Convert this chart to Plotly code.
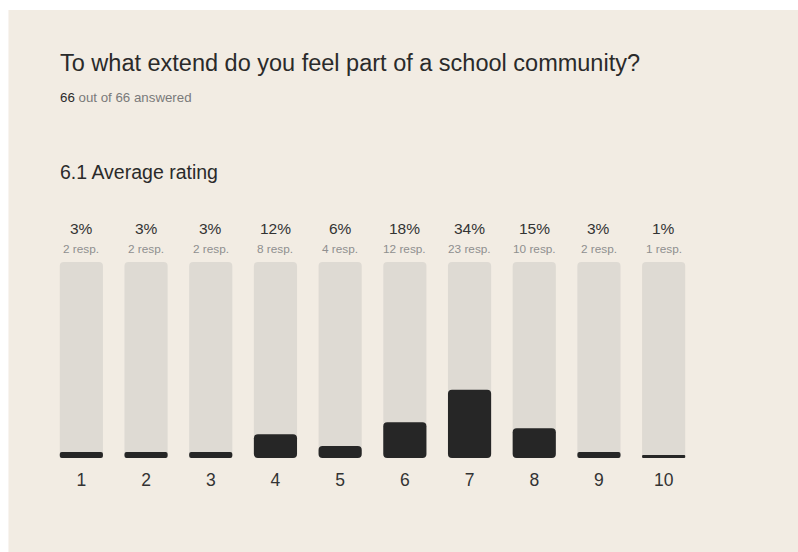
import plotly.graph_objects as go

# ---- data ----
ratings = [1, 2, 3, 4, 5, 6, 7, 8, 9, 10]
responses = [2, 2, 2, 8, 4, 12, 23, 10, 2, 1]
pct_labels = ["3%", "3%", "3%", "12%", "6%", "18%", "34%", "15%", "3%", "1%"]
total_answered = 66
total_asked = 66

title_text = "To what extend do you feel part of a school community?"
subtitle_text = "6.1 Average rating"

# ---- styling ----
W, H = 798, 552
BEIGE = "#f2ece3"
TRACK = "#dedad3"
DARK = "#262626"
FONT = "Liberation Sans, Arial, Helvetica, sans-serif"

pct = [r / total_answered * 100 for r in responses]
full = [100] * len(ratings)

# plot-area geometry (screen pixels)
plot_l, plot_r = 48.6, 696.4
plot_t, plot_b = 262, 458
ml, mr, mt, mb = plot_l, W - plot_r, plot_t, H - plot_b
pw, ph = plot_r - plot_l, plot_b - plot_t

def px_x(x):
    return (x - plot_l) / pw

def px_y(y):
    return (plot_b - y) / ph

fig = go.Figure()

# background tracks and value bars (explicit base -> rounded at both ends)
fig.add_bar(x=ratings, y=full, base=[0] * len(ratings),
            marker=dict(color=TRACK, cornerradius=4, line_width=0), hoverinfo="skip")
fig.add_bar(x=ratings, y=pct, base=[0] * len(ratings),
            marker=dict(color=DARK, cornerradius=4, line_width=0), hoverinfo="skip")

annotations = []
for x, lab, r in zip(ratings, pct_labels, responses):
    annotations.append(dict(x=x, y=100, xref="x", yref="y", text=lab, showarrow=False,
                            yanchor="middle", yshift=34,
                            font=dict(family=FONT, size=15.5, color="#333333")))
    annotations.append(dict(x=x, y=100, xref="x", yref="y", text=f"{r} resp.", showarrow=False,
                            yanchor="middle", yshift=13,
                            font=dict(family=FONT, size=11.8, color="#8f8f8f")))

annotations.append(dict(x=px_x(58), y=px_y(63), xref="paper", yref="paper", text=title_text,
                        showarrow=False, xanchor="left", yanchor="middle",
                        font=dict(family=FONT, size=23.5, color="#2a2a2a")))
annotations.append(dict(x=px_x(58), y=px_y(97), xref="paper", yref="paper",
                        text=f"<span style='color:#2a2a2a'>{total_answered}</span> out of {total_asked} answered",
                        showarrow=False, xanchor="left", yanchor="middle",
                        font=dict(family=FONT, size=13.3, color="#7a7a7a")))
annotations.append(dict(x=px_x(58), y=px_y(172), xref="paper", yref="paper", text=subtitle_text,
                        showarrow=False, xanchor="left", yanchor="middle",
                        font=dict(family=FONT, size=19.5, color="#2a2a2a")))

shapes = [dict(type="rect", xref="paper", yref="paper", layer="below",
               x0=px_x(8), x1=px_x(W + 5), y0=px_y(H + 5), y1=px_y(10),
               fillcolor=BEIGE, line_width=0)]

fig.update_layout(
    width=W, height=H,
    margin=dict(l=ml, r=mr, t=mt, b=mb, pad=0),
    paper_bgcolor="white",
    plot_bgcolor="rgba(0,0,0,0)",
    barmode="overlay",
    bargap=0.333,
    showlegend=False,
    annotations=annotations,
    shapes=shapes,
    font=dict(family=FONT),
)
fig.update_xaxes(range=[0.5, 10.5], tickmode="array", tickvals=ratings,
                 ticktext=[str(r) for r in ratings], showgrid=False, zeroline=False,
                 showline=False, ticks="outside", ticklen=6, tickcolor="rgba(0,0,0,0)",
                 tickfont=dict(family=FONT, size=17.5, color="#333333"), fixedrange=True)
fig.update_yaxes(range=[0, 100], visible=False, fixedrange=True)

fig.write_html(
    "out.html",
    config={"displayModeBar": False},
    post_script="document.body.style.margin='0';document.body.style.overflow='hidden';",
)
